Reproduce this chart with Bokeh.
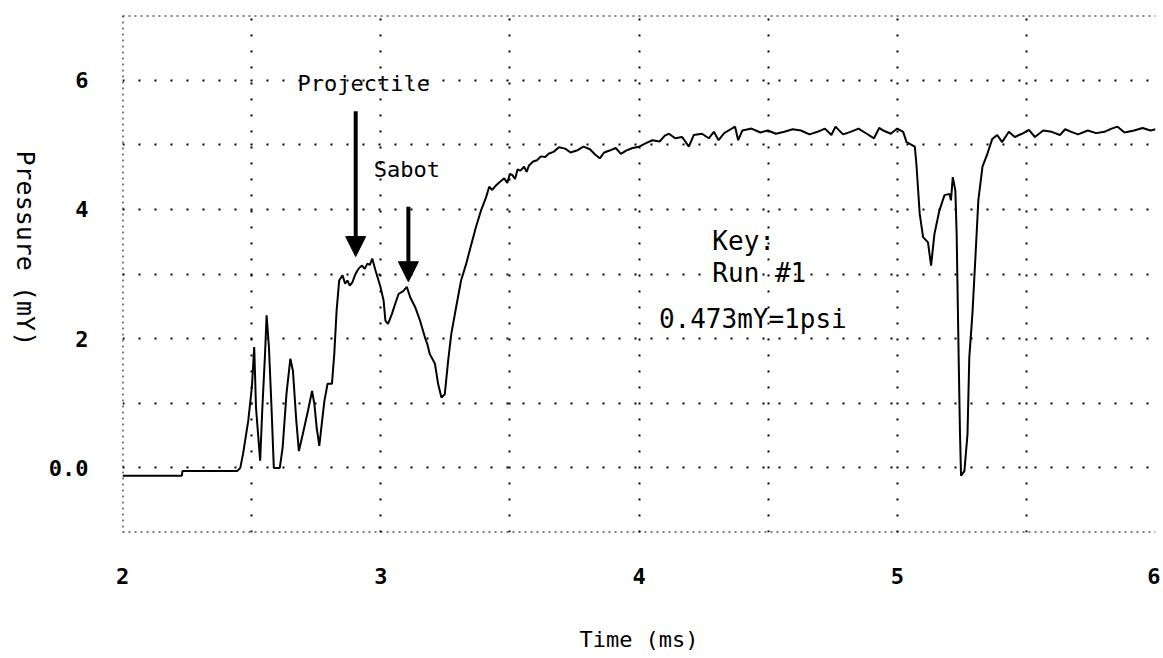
import math
from bokeh.plotting import figure
from bokeh.layouts import row
from bokeh.models import FixedTicker, Label, Arrow, NormalHead, Span, Range1d
from bokeh.core.properties import value
from bokeh.embed import file_html
from bokeh.resources import INLINE

# ---- data ----
time_ms = [
    2.000, 2.230, 2.232, 2.444, 2.456, 2.467, 2.487, 2.501, 2.510, 2.517,
    2.526, 2.533, 2.541, 2.552, 2.558, 2.567, 2.577, 2.586, 2.609, 2.620,
    2.635, 2.650, 2.660, 2.673, 2.683, 2.698, 2.718, 2.734, 2.743, 2.752,
    2.762, 2.773, 2.782, 2.794, 2.811, 2.820, 2.829, 2.839, 2.852, 2.862,
    2.871, 2.880, 2.890, 2.900, 2.909, 2.918, 2.928, 2.938, 2.948, 2.958,
    2.967, 2.980, 2.999, 3.011, 3.018, 3.028, 3.043, 3.056, 3.069, 3.088,
    3.101, 3.114, 3.133, 3.152, 3.171, 3.180, 3.190, 3.210, 3.222, 3.235,
    3.248, 3.261, 3.273, 3.292, 3.311, 3.331, 3.350, 3.369, 3.388, 3.408,
    3.420, 3.432, 3.446, 3.460, 3.478, 3.490, 3.500, 3.510, 3.520, 3.530,
    3.541, 3.555, 3.565, 3.574, 3.590, 3.605, 3.620, 3.637, 3.650, 3.669,
    3.690, 3.714, 3.735, 3.759, 3.785, 3.810, 3.830, 3.848, 3.865, 3.886,
    3.910, 3.930, 3.950, 3.975, 4.001, 4.025, 4.052, 4.080, 4.100, 4.116,
    4.140, 4.167, 4.193, 4.212, 4.244, 4.270, 4.290, 4.308, 4.330, 4.355,
    4.372, 4.384, 4.400, 4.436, 4.470, 4.499, 4.530, 4.563, 4.595, 4.627,
    4.660, 4.691, 4.720, 4.745, 4.761, 4.790, 4.819, 4.850, 4.882, 4.910,
    4.930, 4.946, 4.975, 5.000, 5.023, 5.036, 5.068, 5.074, 5.080, 5.087,
    5.100, 5.119, 5.131, 5.144, 5.163, 5.183, 5.202, 5.208, 5.215, 5.225,
    5.230, 5.238, 5.243, 5.247, 5.260, 5.272, 5.279, 5.291, 5.304, 5.314,
    5.330, 5.349, 5.368, 5.387, 5.406, 5.432, 5.455, 5.483, 5.510, 5.533,
    5.565, 5.598, 5.630, 5.650, 5.674, 5.700, 5.738, 5.770, 5.802, 5.830,
    5.853, 5.880, 5.917, 5.950, 5.981, 6.000,
]
pressure_mv = [
    -0.12, -0.12, -0.05, -0.05, 0.00, 0.22, 0.73, 1.25, 1.87, 0.93,
    0.47, 0.11, 0.88, 1.77, 2.36, 1.87, 0.93, 0.00, 0.00, 0.31,
    1.15, 1.69, 1.50, 0.73, 0.26, 0.52, 0.88, 1.19, 0.99, 0.62,
    0.34, 0.73, 1.04, 1.30, 1.30, 1.76, 2.43, 2.90, 2.98, 2.85,
    2.90, 2.82, 2.87, 2.98, 3.05, 3.10, 3.13, 3.08, 3.16, 3.14,
    3.24, 3.05, 2.80, 2.59, 2.28, 2.23, 2.38, 2.54, 2.69, 2.74,
    2.80, 2.64, 2.49, 2.28, 2.02, 1.92, 1.76, 1.61, 1.30, 1.09,
    1.14, 1.66, 2.07, 2.49, 2.90, 3.16, 3.45, 3.73, 3.98, 4.19,
    4.35, 4.30, 4.37, 4.42, 4.48, 4.41, 4.55, 4.53, 4.47, 4.62,
    4.60, 4.66, 4.58, 4.68, 4.74, 4.76, 4.82, 4.81, 4.86, 4.89,
    4.96, 4.94, 4.88, 4.91, 4.97, 4.93, 4.85, 4.79, 4.88, 4.91,
    4.95, 4.86, 4.91, 4.95, 4.97, 5.02, 5.07, 5.05, 5.14, 5.17,
    5.10, 5.12, 4.97, 5.15, 5.17, 5.10, 5.20, 5.07, 5.18, 5.24,
    5.28, 5.07, 5.22, 5.25, 5.19, 5.22, 5.17, 5.20, 5.24, 5.22,
    5.16, 5.20, 5.25, 5.15, 5.28, 5.16, 5.20, 5.25, 5.17, 5.10,
    5.26, 5.22, 5.17, 5.25, 5.20, 5.04, 4.97, 4.71, 4.35, 3.93,
    3.57, 3.49, 3.13, 3.62, 3.98, 4.22, 4.24, 4.14, 4.50, 4.29,
    3.62, 1.66, 0.52, -0.12, -0.05, 0.52, 1.71, 2.38, 3.36, 4.14,
    4.66, 4.86, 5.09, 5.15, 5.04, 5.20, 5.12, 5.17, 5.23, 5.12,
    5.22, 5.20, 5.15, 5.24, 5.20, 5.16, 5.22, 5.18, 5.20, 5.25,
    5.28, 5.19, 5.22, 5.26, 5.22, 5.24,
]

x_ticks = [2, 3, 4, 5, 6]
y_ticks = [0, 2, 4, 6]
y_tick_text = {0: "0.0", 2: "2", 4: "4", 6: "6"}
x_grid = [2.5, 3.0, 3.5, 4.0, 4.5, 5.0, 5.5]
y_grid = [0, 1, 2, 3, 4, 5, 6]
y_title = "Pressure (mY)"

FONT = "DejaVu Sans Mono"
H = 655

# ---- narrow strip holding the y-axis title (reads top to bottom) ----
lab = figure(width=45, height=H, output_backend="svg", toolbar_location=None,
             x_range=Range1d(0, 45), y_range=Range1d(H, 0),
             x_axis_type=None, y_axis_type=None,
             min_border_left=0, min_border_right=0, min_border_top=0,
             min_border_bottom=0)
lab.outline_line_color = None
lab.xgrid.visible = False
lab.ygrid.visible = False
lab.text(x=[25], y=[295], text=[y_title], angle=-math.pi / 2,
         text_align="center", text_baseline="middle",
         text_font=value(FONT), text_font_size=value("25px"),
         text_color="black")

# ---- main plot ----
p = figure(width=1115, height=H, output_backend="svg", toolbar_location=None,
           x_range=Range1d(2, 6), y_range=Range1d(-1, 7),
           min_border_left=76, min_border_right=5, min_border_top=15,
           min_border_bottom=123)
p.background_fill_color = "white"
p.border_fill_color = "white"
p.outline_line_color = None

for ax in (p.xaxis, p.yaxis):
    ax.axis_line_color = None
    ax.major_tick_line_color = None
    ax.minor_tick_line_color = None
    ax.major_tick_out = 0
    ax.major_tick_in = 0
    ax.major_label_text_font = FONT
    ax.major_label_text_font_style = "bold"
    ax.major_label_text_font_size = "22px"
    ax.major_label_text_color = "black"

p.xaxis.ticker = FixedTicker(ticks=x_ticks)
p.yaxis.ticker = FixedTicker(ticks=y_ticks)
p.yaxis.major_label_overrides = y_tick_text
p.xaxis.major_label_standoff = 35
p.yaxis.major_label_standoff = 34

p.xaxis.axis_label = "Time (ms)"
p.xaxis.axis_label_text_font = FONT
p.xaxis.axis_label_text_font_style = "normal"
p.xaxis.axis_label_text_font_size = "22px"
p.xaxis.axis_label_text_color = "black"
p.xaxis.axis_label_standoff = 40

# grid (dotted)
p.xgrid.ticker = FixedTicker(ticks=x_grid)
p.ygrid.ticker = FixedTicker(ticks=y_grid)
for g in (p.xgrid, p.ygrid):
    g.grid_line_color = "black"
    g.grid_line_dash = "2 14"
    g.grid_line_width = 2
    g.grid_line_alpha = 1.0

# dotted borders: left, top, bottom
p.add_layout(Span(location=2, dimension="height", line_color="black",
                  line_dash="2 4", line_width=2))
p.add_layout(Span(location=7, dimension="width", line_color="black",
                  line_dash="2 4", line_width=2))
p.add_layout(Span(location=-1, dimension="width", line_color="black",
                  line_dash="2 4", line_width=2))

# trace
p.line(time_ms, pressure_mv, line_color="black", line_width=2)

# annotations
def note(x, y, txt, size):
    p.add_layout(Label(x=x, y=y, text=txt, text_align="left",
                       text_baseline="middle", text_font=FONT,
                       text_font_size=size, text_color="black"))

note(2.678, 5.95, "Projectile", "22px")
note(2.973, 4.61, "Sabot", "22px")
note(4.284, 3.51, "Key:", "26px")
note(4.284, 3.02, "Run #1", "26px")
note(4.077, 2.31, "0.473mY=1psi", "26px")

p.add_layout(Arrow(end=NormalHead(size=20, fill_color="black", line_color="black"),
                   x_start=2.903, y_start=5.52, x_end=2.903, y_end=3.27,
                   line_color="black", line_width=4))
p.add_layout(Arrow(end=NormalHead(size=20, fill_color="black", line_color="black"),
                   x_start=3.107, y_start=4.04, x_end=3.107, y_end=2.88,
                   line_color="black", line_width=4))

layout = row(lab, p)
open("out.html", "w").write(file_html(layout, INLINE))
